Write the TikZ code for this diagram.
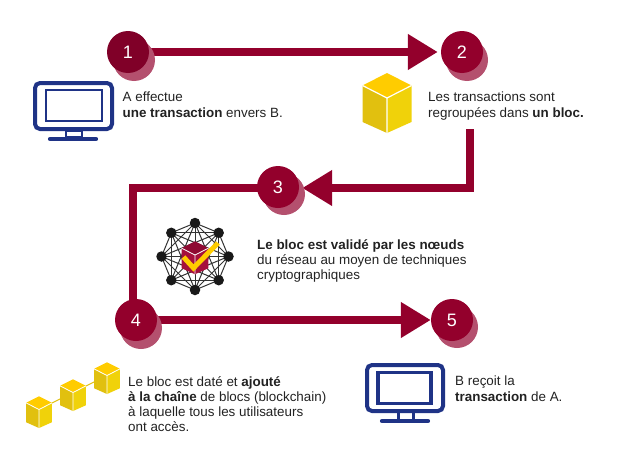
\documentclass[tikz,border=0pt]{standalone}
\usepackage{fontspec}
\setmainfont{Liberation Sans}
\usetikzlibrary{arrows.meta,calc}
\pgfdeclarelayer{bg}\pgfsetlayers{bg,main}
\definecolor{crim}{HTML}{93002C}
\definecolor{crimdark}{HTML}{800028}
\definecolor{crimtop}{HTML}{8E0A32}
\definecolor{crimside}{HTML}{A5103C}
\definecolor{shade}{HTML}{B4506E}
\definecolor{navy}{HTML}{1F3386}
\definecolor{ytop}{HTML}{FFCC00}
\definecolor{yleft}{HTML}{E1C00F}
\definecolor{yright}{HTML}{F0D20A}
\definecolor{ink}{HTML}{222222}
\tikzset{
  x=1pt,y=-1pt,
  num/.style={circle,fill=crim,minimum size=42pt,inner sep=0pt,text=white,font=\fontsize{18}{18}\selectfont},
  numshadow/.style={circle,fill=shade,minimum size=42pt,inner sep=0pt},
  flow/.style={draw=crim,line width=8pt,-{Triangle[length=30pt,width=34pt]},shorten >=3pt},
  plainflow/.style={draw=crim,line width=8pt},
  label/.style={anchor=north west,inner sep=0pt,align=left,text=ink,font=\fontsize{13.4}{15.2}\selectfont},
  dot/.style={circle,fill=black!90,minimum size=10.5pt,inner sep=0pt},
  link/.style={draw=black!80,line width=1pt},
  chainlink/.style={draw=yleft,line width=1pt},
  pics/cube/.style n args={4}{code={
    \fill[#1] (0,-25)--(24.5,-12.5)--(0,0)--(-24.5,-12.5)--cycle;
    \fill[#2] (-24.5,-12.5)--(0,0)--(0,35)--(-24.5,24)--cycle;
    \fill[#3] (24.5,-12.5)--(0,0)--(0,35)--(24.5,24)--cycle;
    \draw[white,line width=#4] (-24.5,-12.5)--(0,0)--(24.5,-12.5) (0,0)--(0,35);
  }},
}
\begin{document}
\begin{tikzpicture}
\useasboundingbox (0,0) rectangle (630,474);
% steps
\node[numshadow] (s1) at (134,60) {};
\node[numshadow] (s2) at (467,60) {};
\node[numshadow] (s3) at (284,194) {};
\node[numshadow] (s4) at (141,328) {};
\node[numshadow] (s5) at (457,327) {};
\node[num,fill=crimdark] (c1) at (128,52) {1};
\node[num] (c2) at (462,52) {2};
\node[num] (c3) at (278,187) {3};
\node[num] (c4) at (136,320) {4};
\node[num] (c5) at (452,320) {5};
\coordinate (k2) at (469.5,129);
\coordinate (k3) at (132.5,188);
\begin{pgfonlayer}{bg}
\draw[flow] (c1) -- (c2);
\draw[flow] (k2) |- (c3.east |- k3) ;
\draw[plainflow] (c3 |- k3) -- (k3) -- (k3 |- c4);
\draw[flow,shorten >=0pt] (c4) -- (c5);
\end{pgfonlayer}
% monitor A
\draw[navy,line width=4pt,rounded corners=5pt] (35,83) rectangle (112,129);
\draw[navy,line width=1.3pt] (46,90) rectangle (102,121);
\draw[navy,line width=1.3pt] (66,131) rectangle (82,137);
\draw[navy,line width=4.2pt,line cap=round] (50,139) -- (96,139);
% monitor B
\draw[navy,line width=4pt,rounded corners=5pt] (367,365) rectangle (443,411);
\draw[navy,line width=3.5pt] (378,372.5) rectangle (431,403.5);
\draw[navy,line width=3pt] (398,412) -- (398,420) (413,412) -- (413,420);
\draw[navy,line width=4.2pt,line cap=round] (382,421) -- (428,421);
% block
\pic at (387,98) {cube={ytop}{yleft}{yright}{1.2pt}};
% chain
\coordinate (b1) at (39,409.5);
\coordinate (b2) at (73,392.5);
\coordinate (b3) at (107,375.5);
\draw[chainlink] (b1) -- (b3);
\pic[scale=.53] at (b1) {cube={ytop}{yleft}{yright}{.8pt}};
\pic[scale=.53] at (b2) {cube={ytop}{yleft}{yright}{.8pt}};
\pic[scale=.53] at (b3) {cube={ytop}{yleft}{yright}{.8pt}};
% network
\foreach \i in {0,...,7} \node[dot] (n\i) at ($(195,256.5)+({45*\i}:33.5)$) {};
\foreach \i in {0,...,7} \foreach \j in {0,...,7} {
  \ifnum\i<\j \begin{pgfonlayer}{bg}\draw[link] (n\i.center) -- (n\j.center);\end{pgfonlayer}\fi}
\pic[scale=.55] at (195,255) {cube={crimtop}{crimside}{crimside}{.8pt}};
\draw[ytop,line width=5pt] (183.5,257) -- (193.5,268) -- (218,243);
% text
\node[label] (t1) at (122.5,92) {A effectue\\\textbf{une transaction} envers B.};
\node[label] (t2) at (428,92) {Les transactions sont\\regroupées dans \textbf{un bloc.}};
\node[label] (t3) at (257,239) {\textbf{Le bloc est validé par les nœuds}\\du réseau au moyen de techniques\\cryptographiques};
\node[label] (t4) at (128,376) {Le bloc est daté et \textbf{ajouté}\\\textbf{à la chaîne} de blocs (blockchain)\\à laquelle tous les utilisateurs\\ont accès.};
\node[label] (t5) at (455,376) {B reçoit la\\\textbf{transaction} de A.};
\end{tikzpicture}
\end{document}
